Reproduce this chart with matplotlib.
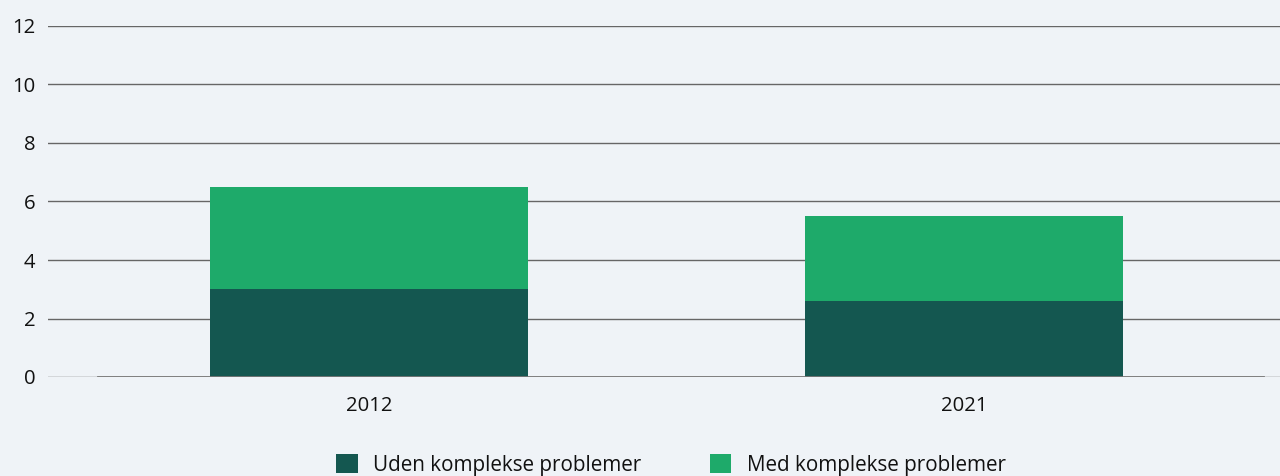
import matplotlib
matplotlib.use("Agg")
import matplotlib.pyplot as plt
import numpy as np

categories = ["2012", "2021"]
uden = [3.0, 2.6]
med = [3.5, 2.9]
series_labels = ["Uden komplekse problemer", "Med komplekse problemer"]
yticks = [0, 2, 4, 6, 8, 10, 12]

bg = "#eff3f7"
c_dark = "#145750"
c_green = "#1eaa6a"

plt.rcParams['font.family'] = ['Open Sans', 'DejaVu Sans']
fs = 14.6

fig = plt.figure(figsize=(12.8, 4.76), dpi=100, facecolor=bg)
ax = fig.add_axes([48/1280, (476-377)/476, 1 - 48/1280, (377-26)/476])
ax.set_facecolor(bg)

x = np.arange(len(categories))
w = 0.534
ax.bar(x, uden, w, color=c_dark, label=series_labels[0], zorder=3)
ax.bar(x, med, w, bottom=uden, color=c_green, label=series_labels[1], zorder=3)

ax.set_xlim(-0.539, 1.531)
ax.set_ylim(0, 12)
ax.set_yticks(yticks)
ax.set_yticklabels([str(t) for t in yticks])
ax.set_xticks(x)
ax.set_xticklabels(categories)
ax.tick_params(axis='both', length=0, labelsize=fs, colors="#111111")
ax.tick_params(axis='y', pad=9)
ax.tick_params(axis='x', pad=14)
ax.grid(axis='y', color="#666666", linewidth=1.0, zorder=1)
ax.axhline(0, xmin=(98-48)/1232, xmax=(1263-48)/1232, color="#777777", linewidth=2, zorder=4)
for s in ax.spines.values():
    s.set_visible(False)

fig.legend(loc='center', bbox_to_anchor=(671/1280, 11/476), ncol=2, frameon=False,
           fontsize=14.9, handlelength=1.05, handleheight=1.05, columnspacing=3.3,
           handletextpad=0.76, labelcolor="#111111", borderaxespad=0, borderpad=0)

fig.savefig("out.png", dpi=100, facecolor=bg)
